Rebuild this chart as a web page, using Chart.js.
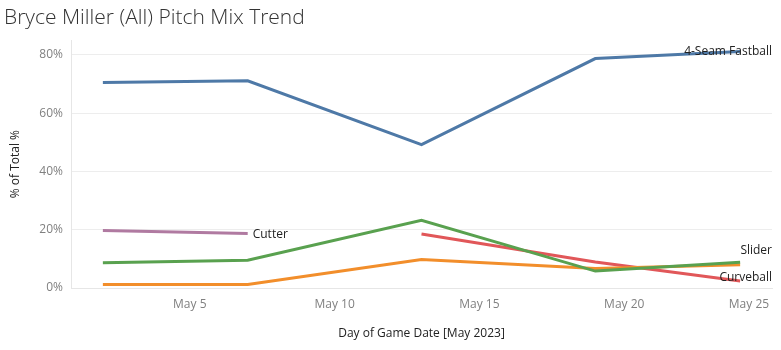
<!DOCTYPE html>
<html>
<head>
<meta charset="utf-8">
<title>Bryce Miller (All) Pitch Mix Trend</title>
<script src="https://cdn.jsdelivr.net/npm/chart.js@4"></script>
<style>
  html, body { margin: 0; padding: 0; background: #fff; }
  #wrap { width: 781px; height: 350px; }
</style>
</head>
<body>
<div id="wrap"><canvas id="chart"></canvas></div>
<script>
// Game days in May 2023
const gameDays = [2, 7, 13, 19, 24];

// % of total pitches per game (null = pitch not thrown)
const fastball  = [70.5, 71.1, 49.2, 78.7, 81.1];
const cutter    = [19.7, 18.7, null, null, null];
const slider    = [8.7, 9.5, 23.2, 5.8, 8.8];
const changeup  = [1.2, 1.2, 9.8, 6.7, 8.0];
const curveball = [null, null, 18.5, 8.9, 2.4];

const tickDays   = [5, 10, 15, 20, 25];
const tickLabels = ['May 5', 'May 10', 'May 15', 'May 20', 'May 25'];
const yTicks     = [0, 20, 40, 60, 80];

const FONT = "'Open Sans', 'DejaVu Sans', sans-serif";

const points = vals => gameDays.map((d, i) => ({ x: d, y: vals[i] }));

const series = [
  { label: '4-Seam Fastball', vals: fastball,  color: '#4e79a7', end: '4-Seam Fastball', dy: 0 },
  { label: 'Cutter',          vals: cutter,    color: '#b07aa1', end: 'Cutter',          dy: 1 },
  { label: 'Slider',          vals: slider,    color: '#59a14f', end: 'Slider',          dy: -12 },
  { label: 'Changeup',        vals: changeup,  color: '#f28e2b', end: null,              dy: 0 },
  { label: 'Curveball',       vals: curveball, color: '#e15759', end: 'Curveball',       dy: -3 },
];

// Tableau-style mark labels at the end of each line
const endLabels = {
  id: 'endLabels',
  afterDatasetsDraw(chart) {
    const { ctx, chartArea } = chart;
    ctx.save();
    ctx.font = '12px ' + FONT;
    ctx.fillStyle = '#222';
    ctx.textBaseline = 'middle';
    chart.data.datasets.forEach((ds, i) => {
      if (!ds.endLabel) return;
      const meta = chart.getDatasetMeta(i);
      let last = -1;
      ds.data.forEach((p, j) => { if (p.y !== null) last = j; });
      if (last < 0) return;
      const pt = meta.data[last];
      const w = ctx.measureText(ds.endLabel).width;
      const x = Math.min(pt.x + 5, chartArea.right - w);
      ctx.fillText(ds.endLabel, x, pt.y + ds.endDy);
    });
    ctx.restore();
  }
};

new Chart(document.getElementById('chart'), {
  type: 'line',
  data: {
    datasets: series.map(s => ({
      label: s.label,
      data: points(s.vals),
      borderColor: s.color,
      backgroundColor: s.color,
      borderWidth: 3,
      pointRadius: 0,
      tension: 0,
      spanGaps: false,
      endLabel: s.end,
      endDy: s.dy,
    })),
  },
  options: {
    responsive: true,
    maintainAspectRatio: false,
    animation: false,
    layout: { padding: { left: 4, right: 9, top: 0, bottom: 0 } },
    plugins: {
      legend: { display: false },
      tooltip: { enabled: false },
      title: {
        display: true,
        text: 'Bryce Miller (All) Pitch Mix Trend',
        align: 'start',
        color: '#333',
        font: { family: FONT, size: 21, weight: '300' },
        padding: { top: 5, bottom: 10 },
      },
    },
    scales: {
      x: {
        type: 'linear',
        min: 0.9,
        max: 25.1,
        afterBuildTicks: scale => {
          scale.ticks = [{ value: 0.9 }].concat(tickDays.map(v => ({ value: v })));
        },
        afterFit: scale => { scale.height = 62; },
        ticks: {
          autoSkip: false,
          maxRotation: 0,
          align: 'inner',
          padding: 9,
          color: '#808080',
          font: { family: FONT, size: 12 },
          callback: v => {
            const i = tickDays.indexOf(v);
            return i >= 0 ? tickLabels[i] : '';
          },
        },
        grid: { display: false, drawTicks: false },
        border: { display: true, color: '#e6e6e6', width: 1 },
        title: {
          display: true,
          text: 'Day of Game Date [May 2023]',
          color: '#222',
          font: { family: FONT, size: 12, weight: '500' },
          padding: { top: 4, bottom: 9 },
        },
      },
      y: {
        min: 0,
        max: 85,
        afterBuildTicks: scale => {
          scale.ticks = yTicks.map(v => ({ value: v }));
        },
        afterFit: scale => { scale.width = 67; },
        ticks: {
          padding: 8,
          color: '#808080',
          font: { family: FONT, size: 12 },
          callback: v => v + '%',
        },
        grid: { color: '#ededed', drawTicks: false },
        border: { display: true, color: '#e6e6e6', width: 1 },
        title: {
          display: true,
          text: '% of Total %',
          color: '#222',
          font: { family: FONT, size: 12, weight: '500' },
          padding: { top: 4, bottom: 4 },
        },
      },
    },
  },
  plugins: [endLabels],
});
</script>
</body>
</html>
